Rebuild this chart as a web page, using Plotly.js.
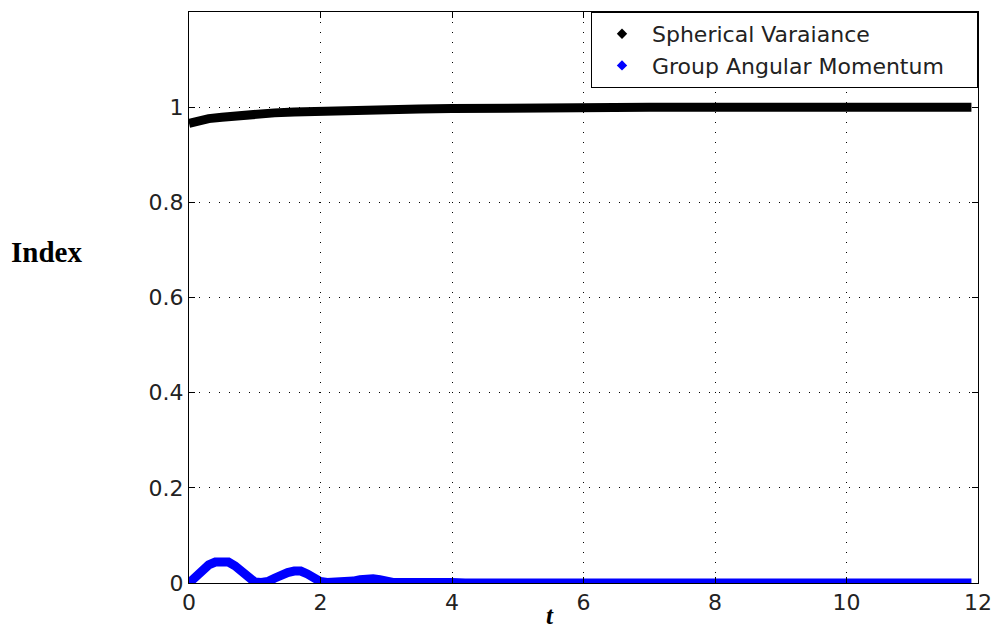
<!DOCTYPE html>
<html>
<head>
<meta charset="utf-8">
<script src="https://cdn.plot.ly/plotly-3.0.1.min.js"></script>
<style>html,body{margin:0;padding:0;background:#fff;}#chart{width:994px;height:632px;}</style>
</head>
<body>
<div id="chart"></div>
<script>
// Spherical Varaiance
var tSV = [0, 0.1, 0.2, 0.3, 0.5, 0.7, 1.0, 1.3, 1.6, 2.0, 2.5, 3.0, 3.5, 4.0, 4.5, 5.0, 6, 7, 8, 9, 10, 11, 11.9];
var vSV = [0.966, 0.970, 0.973, 0.976, 0.979, 0.982, 0.985, 0.988, 0.990, 0.992, 0.994, 0.995, 0.996, 0.997, 0.998, 0.999, 0.9995, 1.0, 1.0, 1.0, 1.0, 1.0, 1.0];
// Group Angular Momentum
var tGAM = [0, 0.1, 0.2, 0.3, 0.4, 0.5, 0.6, 0.7, 0.8, 0.9, 1.0, 1.1, 1.2, 1.3, 1.4, 1.5, 1.6, 1.7, 1.8, 1.9, 2.0, 2.1, 2.2, 2.3, 2.4, 2.5, 2.6, 2.7, 2.8, 2.9, 3.0, 3.1, 3.3, 3.5, 3.6, 3.7, 3.8, 3.9, 4.0, 4.2, 5, 6, 7, 8, 9, 10, 11, 11.9];
var vGAM = [0, 0.015, 0.028, 0.038, 0.044, 0.046, 0.044, 0.036, 0.024, 0.010, 0.002, 0.001, 0.003, 0.010, 0.017, 0.022, 0.025, 0.025, 0.019, 0.010, 0.003, 0.001, 0.001, 0.001, 0.002, 0.004, 0.007, 0.009, 0.009, 0.007, 0.003, 0.001, 0.001, 0.001, 0.002, 0.004, 0.005, 0.004, 0.001, 0, 0, 0, 0, 0, 0, 0, 0, 0];
var names = ["Spherical Varaiance", "Group Angular Momentum"];
var xTicks = [0, 2, 4, 6, 8, 10, 12];
var yTicks = [0, 0.2, 0.4, 0.6, 0.8, 1];
var yTickText = ["0", "0.2", "0.4", "0.6", "0.8", "1"];

var pad = '\u00a0\u00a0\u00a0\u00a0';
var traces = [
  {x: tSV, y: vSV, mode: 'lines', line: {color: '#000000', width: 9}, showlegend: false, hoverinfo: 'skip'},
  {x: tGAM, y: vGAM, mode: 'lines', line: {color: '#0000ff', width: 9}, showlegend: false, hoverinfo: 'skip'},
  {x: [null], y: [null], mode: 'markers', name: names[0] + pad, marker: {symbol: 'diamond', size: 8, color: '#000000'}},
  {x: [null], y: [null], mode: 'markers', name: names[1] + pad, marker: {symbol: 'diamond', size: 8, color: '#0000ff'}}
];

var axisCommon = {
  showline: true, linecolor: '#000', linewidth: 1, mirror: 'ticks',
  ticks: 'inside', ticklen: 6, tickcolor: '#000',
  showgrid: true, gridcolor: '#000', gridwidth: 1, griddash: '1px,9px',
  zeroline: false, layer: 'above traces',
  tickfont: {family: 'DejaVu Sans, sans-serif', size: 22, color: '#222'}
};

var layout = {
  width: 994, height: 632,
  margin: {l: 189, r: 16, t: 12, b: 49},
  paper_bgcolor: '#fff', plot_bgcolor: '#fff',
  xaxis: Object.assign({}, axisCommon, {range: [0, 12], tickvals: xTicks, ticktext: xTicks.map(String)}),
  yaxis: Object.assign({}, axisCommon, {range: [0, 1.2], tickvals: yTicks, ticktext: yTickText}),
  showlegend: true,
  legend: {x: 1, y: 1, xanchor: 'right', yanchor: 'top', bgcolor: '#fff', bordercolor: '#000', borderwidth: 1,
    itemwidth: 50, font: {family: 'DejaVu Sans, sans-serif', size: 22, color: '#222'}},
  annotations: [
    {text: '<b>Index</b>', xref: 'paper', yref: 'paper', x: -0.181, y: 0.580, xanchor: 'center', yanchor: 'middle', showarrow: false,
     font: {family: 'Liberation Serif, Times New Roman, serif', size: 29, color: '#000'}},
    {text: '<b><i>t</i></b>', xref: 'paper', yref: 'paper', x: 0.4575, y: -0.057, xanchor: 'center', yanchor: 'middle', showarrow: false,
     borderpad: 0, font: {family: 'Liberation Serif, Times New Roman, serif', size: 25, color: '#000'}}
  ]
};

Plotly.newPlot('chart', traces, layout, {staticPlot: true});
</script>
</body>
</html>
